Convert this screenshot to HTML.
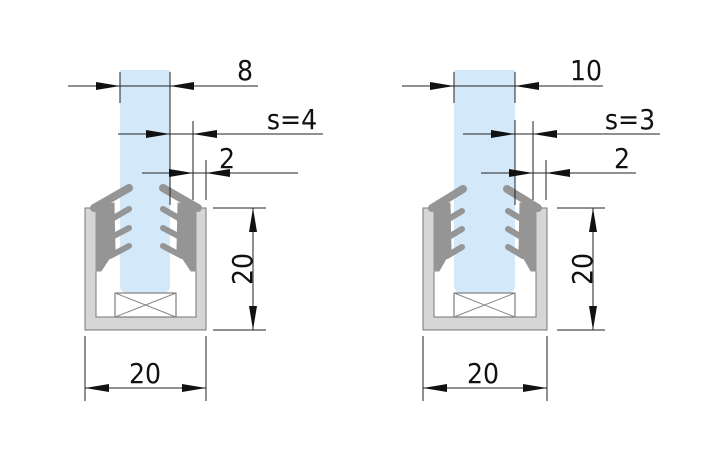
<!DOCTYPE html>
<html><head><meta charset="utf-8"><style>
html,body{margin:0;padding:0;background:#fff}
svg{display:block}
text{font-family:"DejaVu Sans Condensed","Liberation Sans",sans-serif;fill:#111}
</style></head><body>
<svg width="720" height="450" viewBox="0 0 720 450" xmlns="http://www.w3.org/2000/svg">

<!-- LEFT DIAGRAM -->
<path d="M85,208 H96 V317 H196 V208 H206 V330 H85 Z" fill="#d6d6d6" stroke="#777" stroke-width="1"/>
<path d="M120,70 H170 V285 Q170,293 162,293 H128 Q120,293 120,285 Z" fill="#d3e8f8"/>
<rect x="115" y="293" width="61" height="24" fill="#fff" stroke="#666" stroke-width="1"/>
<path d="M115,293 L176,317 M176,293 L115,317" stroke="#888" stroke-width="1"/>
<g fill="#959595" stroke="#959595" stroke-linecap="round">
 <polygon points="96,206 114,203 115,250 101,271 96,271" stroke-width="1"/>
 <line x1="94" y1="208" x2="129" y2="188" stroke-width="8"/>
 <line x1="110" y1="220" x2="129" y2="209" stroke-width="6"/>
 <line x1="110" y1="238" x2="129" y2="228" stroke-width="6"/>
 <line x1="110" y1="256" x2="129" y2="246" stroke-width="6"/>
 <polygon points="196,206 178,203 177,250 191,271 196,271" stroke-width="1"/>
 <line x1="198" y1="208" x2="163" y2="188" stroke-width="8"/>
 <line x1="182" y1="220" x2="163" y2="209" stroke-width="6"/>
 <line x1="182" y1="238" x2="163" y2="228" stroke-width="6"/>
 <line x1="182" y1="256" x2="163" y2="246" stroke-width="6"/>
</g>
<g stroke="#222" stroke-width="1" fill="none">
 <line x1="68" y1="86" x2="258" y2="86"/>
 <line x1="120" y1="72" x2="120" y2="103"/>
 <line x1="170" y1="72" x2="170" y2="205"/>
 <line x1="118" y1="134" x2="323" y2="134"/>
 <line x1="193" y1="121" x2="193" y2="200"/>
 <line x1="142" y1="173" x2="298" y2="173"/>
 <line x1="206" y1="160" x2="206" y2="200"/>
 <line x1="213" y1="208" x2="266" y2="208"/>
 <line x1="213" y1="330" x2="266" y2="330"/>
 <line x1="253" y1="208" x2="253" y2="330"/>
 <line x1="85" y1="336" x2="85" y2="401"/>
 <line x1="206" y1="336" x2="206" y2="401"/>
 <line x1="85" y1="388" x2="206" y2="388"/>
</g>
<g fill="#111">
 <polygon points="120,86 96,82 96,90"/><polygon points="170,86 194,82 194,90"/>
 <polygon points="170,134 146,130 146,138"/><polygon points="193,134 217,130 217,138"/>
 <polygon points="193,173 169,169 169,177"/><polygon points="206,173 230,169 230,177"/>
 <polygon points="253,208 249,232 257,232"/><polygon points="253,330 249,306 257,306"/>
 <polygon points="85,388 109,384 109,392"/><polygon points="206,388 182,384 182,392"/>
</g>
<text x="245" y="80" font-size="28" text-anchor="middle">8</text>
<text x="292" y="129" font-size="28" text-anchor="middle">s=4</text>
<text x="227" y="168" font-size="28" text-anchor="middle">2</text>
<text x="145" y="383" font-size="28" text-anchor="middle">20</text>
<text transform="translate(244,269) rotate(-90)" font-size="28" text-anchor="middle" dominant-baseline="middle">20</text>

<!-- RIGHT DIAGRAM -->
<path d="M423,208 H434 V317 H536 V208 H547 V330 H423 Z" fill="#d6d6d6" stroke="#777" stroke-width="1"/>
<path d="M454,70 H515 V285 Q515,293 507,293 H462 Q454,293 454,285 Z" fill="#d3e8f8"/>
<rect x="454" y="293" width="61" height="24" fill="#fff" stroke="#666" stroke-width="1"/>
<path d="M454,293 L515,317 M515,293 L454,317" stroke="#888" stroke-width="1"/>
<g fill="#959595" stroke="#959595" stroke-linecap="round">
 <polygon points="434,206 450,203 451,250 439,271 434,271" stroke-width="1"/>
 <line x1="432" y1="208" x2="463" y2="189" stroke-width="8"/>
 <line x1="447" y1="220" x2="462" y2="211" stroke-width="6"/>
 <line x1="447" y1="238" x2="462" y2="229" stroke-width="6"/>
 <line x1="447" y1="256" x2="462" y2="247" stroke-width="6"/>
 <polygon points="536,206 520,203 519,250 531,271 536,271" stroke-width="1"/>
 <line x1="538" y1="208" x2="507" y2="189" stroke-width="8"/>
 <line x1="523" y1="220" x2="508" y2="211" stroke-width="6"/>
 <line x1="523" y1="238" x2="508" y2="229" stroke-width="6"/>
 <line x1="523" y1="256" x2="508" y2="247" stroke-width="6"/>
</g>
<g stroke="#222" stroke-width="1" fill="none">
 <line x1="402" y1="86" x2="603" y2="86"/>
 <line x1="454" y1="72" x2="454" y2="103"/>
 <line x1="515" y1="72" x2="515" y2="103"/>
 <line x1="515" y1="120" x2="515" y2="205"/>
 <line x1="463" y1="134" x2="660" y2="134"/>
 <line x1="533" y1="121" x2="533" y2="200"/>
 <line x1="481" y1="173" x2="636" y2="173"/>
 <line x1="546" y1="160" x2="546" y2="200"/>
 <line x1="557" y1="208" x2="605" y2="208"/>
 <line x1="557" y1="330" x2="605" y2="330"/>
 <line x1="593" y1="208" x2="593" y2="330"/>
 <line x1="423" y1="336" x2="423" y2="401"/>
 <line x1="547" y1="336" x2="547" y2="401"/>
 <line x1="423" y1="388" x2="547" y2="388"/>
</g>
<g fill="#111">
 <polygon points="454,86 430,82 430,90"/><polygon points="515,86 539,82 539,90"/>
 <polygon points="515,134 491,130 491,138"/><polygon points="533,134 557,130 557,138"/>
 <polygon points="533,173 509,169 509,177"/><polygon points="546,173 570,169 570,177"/>
 <polygon points="593,208 589,232 597,232"/><polygon points="593,330 589,306 597,306"/>
 <polygon points="423,388 447,384 447,392"/><polygon points="547,388 523,384 523,392"/>
</g>
<text x="586" y="80" font-size="28" text-anchor="middle">10</text>
<text x="630" y="129" font-size="28" text-anchor="middle">s=3</text>
<text x="622" y="168" font-size="28" text-anchor="middle">2</text>
<text x="483" y="383" font-size="28" text-anchor="middle">20</text>
<text transform="translate(584,269) rotate(-90)" font-size="28" text-anchor="middle" dominant-baseline="middle">20</text>
</svg>
</body></html>
